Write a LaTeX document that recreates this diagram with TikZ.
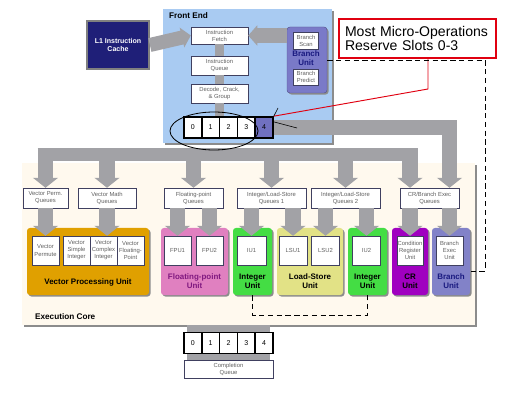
\documentclass[tikz,border=0pt]{standalone}
\usepackage{fontspec}
\setmainfont{Liberation Sans}
\usetikzlibrary{arrows.meta,shapes.geometric,shadows}

\definecolor{feblue}{HTML}{A9CBF2}
\definecolor{l1blue}{HTML}{1F1F78}
\definecolor{brublue}{HTML}{7A7AC8}
\definecolor{slotblue}{HTML}{7070C0}
\definecolor{brutext}{HTML}{1A1A80}
\definecolor{ecfill}{HTML}{FFF9EE}
\definecolor{vpuorange}{HTML}{E0A000}
\definecolor{fpupink}{HTML}{E080C0}
\definecolor{fptext}{HTML}{801880}
\definecolor{intgreen}{HTML}{44DD44}
\definecolor{lsuyellow}{HTML}{E2E286}
\definecolor{crpurple}{HTML}{A000C0}
\definecolor{bxblue}{HTML}{8282C8}
\definecolor{flowgray}{HTML}{A2A2A6}
\definecolor{boxline}{HTML}{404060}
\definecolor{smalltext}{HTML}{606060}
\definecolor{calloutred}{HTML}{E00010}

\newcommand{\pxu}{0.03cm}

\begin{document}
\begin{tikzpicture}[x=0.03cm, y=-0.03cm,
  sz/.style 2 args={minimum width=#1*\pxu, minimum height=#2*\pxu, inner sep=0pt},
  shad/.style={drop shadow={shadow xshift=#1, shadow yshift=-#1, fill=black!45, opacity=1}},
  shad/.default=1pt,
  small/.style={draw=boxline, fill=white, text=smalltext, align=center,
    font=\fontsize{5}{6}\selectfont, shad=0.7pt},
  slot/.style={draw=black, line width=1.4pt, fill=white, font=\fontsize{6}{7}\selectfont, sz={17.8}{21}},
  unit/.style={rounded corners=2.5pt, shad=1.3pt},
  ulabel/.style={font=\bfseries\fontsize{6.8}{7.8}\selectfont, align=center},
  flow/.style={draw=flowgray, line width=13.6pt, -{Triangle[length=8.5pt, width=21pt]}},
  flowh/.style={draw=flowgray, line width=12pt, -{Triangle[length=7.7pt, width=17pt]}},
  link/.style={draw=flowgray, line width=8.5pt},
  bus/.style={draw=flowgray, line width=11pt},
  dashline/.style={line width=0.8pt, dash pattern=on 4.5pt off 3pt}]
  \useasboundingbox (0,0) rectangle (513,403);

  % front end
  \node[fill=feblue, sz={169}{134}, shad=1.5pt] (fe) at (247.5,76) {};
  \node[font=\bfseries\fontsize{7}{8}\selectfont, anchor=west] (fetitle) at (165,16) {Front End};
  \node[fill=l1blue, draw=gray, line width=1.5pt, sz={62}{48}, text=white,
    font=\bfseries\fontsize{6}{7}\selectfont, align=center] (l1) at (118,45) {L1 Instruction\\Cache};
  \node[small, sz={57}{17}] (fetch) at (219.5,35.5) {Instruction\\Fetch};
  \node[small, sz={57}{19}] (iq) at (219.5,65.5) {Instruction\\Queue};
  \node[small, sz={57}{19}] (dec) at (219.5,93.5) {Decode, Crack,\\\& Group};
  \node[unit, fill=brublue, draw=brublue!70!black, sz={40}{66}] (bru) at (307,60) {};
  \node[small, sz={25}{17}] (bscan) at (306,40.5) {Branch\\Scan};
  \node[small, sz={25}{16}] (bpred) at (306,77) {Branch\\Predict};
  \node[ulabel, text=brutext] (brulabel) at (306,58.5) {Branch\\Unit};

  \foreach \i in {0,...,3}
    \node[slot] (s\i) at ({192.9+17.8*\i},127.5) {\i};
  \node[slot, fill=slotblue] (s4) at (264.1,127.5) {4};

  \draw[link] (fetch.south) -- (iq.north);
  \draw[link] (iq.south) -- (dec.north);
  \draw[link] (dec.south) -- (dec.south |- s2.north);
  \draw[flowh] (l1.east) -- (fetch.west);
  \draw[flowh] (bru.west |- fetch.west) -- (fetch.east);

  % execution core
  \node[fill=ecfill, sz={453}{162}, shad=1.5pt] (ec) at (248.5,244) {};
  \node[font=\bfseries\fontsize{7}{8}\selectfont, anchor=west] (ectitle) at (31,317) {Execution Core};

  \node[small, sz={45}{20}] (vpq) at (45.5,198) {Vector Perm.\\Queues};
  \node[small, sz={58}{20}] (vmq) at (107,198) {Vector Math\\Queues};
  \node[small, sz={59}{20}] (fpq) at (193.5,198) {Floating-point\\Queues};
  \node[small, sz={69}{20}] (iq1) at (271.5,198) {Integer/Load-Store\\Queues 1};
  \node[small, sz={69}{20}] (iq2) at (345.5,198) {Integer/Load-Store\\Queues 2};
  \node[small, sz={59}{20}] (crq) at (429.5,198) {CR/Branch Exec\\Queues};

  \node[unit, fill=vpuorange, sz={122}{67}] (vpu) at (88,261.5) {};
  \node[unit, fill=fpupink, sz={67}{67}] (fpu) at (194.5,261.5) {};
  \node[unit, fill=intgreen, sz={39}{67}] (iu1) at (252.5,261.5) {};
  \node[unit, fill=lsuyellow, sz={66}{67}] (lsu) at (310,261.5) {};
  \node[unit, fill=intgreen, sz={39}{67}] (iu2) at (367.5,261.5) {};
  \node[unit, fill=crpurple, sz={36}{67}] (cru) at (410,261.5) {};
  \node[unit, fill=bxblue, sz={38}{67}] (bxu) at (451,261.5) {};

  \node[ulabel] (vpulabel) at (88,282) {Vector Processing Unit};
  \node[ulabel, text=fptext] (fpulabel) at (194.5,281) {Floating-point\\Unit};
  \node[ulabel] (iu1label) at (252.5,281) {Integer\\Unit};
  \node[ulabel] (lsulabel) at (310,281) {Load-Store\\Unit};
  \node[ulabel] (iu2label) at (367.5,281) {Integer\\Unit};
  \node[ulabel] (crulabel) at (410,281) {CR\\Unit};
  \node[ulabel, text=brutext] (bxulabel) at (451,281) {Branch\\Unit};

  \node[small, sz={27}{29}] (vperm) at (45.5,250.5) {Vector\\Permute};
  \node[small, sz={27}{29}] (vsi) at (76.5,250.5) {Vector\\Simple\\Integer};
  \node[small, sz={27}{29}] (vci) at (103.5,250.5) {Vector\\Complex\\Integer};
  \node[small, sz={27}{29}] (vfp) at (130.5,250.5) {Vector\\Floating-\\Point};
  \node[small, sz={27}{29}] (fpu1) at (177.5,250.5) {FPU1};
  \node[small, sz={27}{29}] (fpu2) at (209.5,250.5) {FPU2};
  \node[small, sz={29}{29}] (iu1b) at (251.5,250.5) {IU1};
  \node[small, sz={28}{29}] (lsu1) at (293,250.5) {LSU1};
  \node[small, sz={28}{29}] (lsu2) at (325.5,250.5) {LSU2};
  \node[small, sz={28}{29}] (iu2b) at (366.5,250.5) {IU2};
  \node[small, sz={26}{29}] (crb) at (410,250.5) {Condition\\Register\\Unit};
  \node[small, sz={27}{29}] (bxb) at (449.5,250.5) {Branch\\Exec\\Unit};

  % dispatch
  \coordinate (busl) at (37.5,154.5);
  \coordinate (busr) at (418,154.5);
  \draw[bus] (busl) -- (busr);
  \draw[flow] (vpq.north |- busl) -- (vpq.north);
  \draw[flow] (vmq.north |- busl) -- (vmq.north);
  \draw[flow] (fpq.north |- busl) -- (fpq.north);
  \draw[flow] (iq1.north |- busl) -- (iq1.north);
  \draw[flow] (iq2.north |- busl) -- (iq2.north);
  \draw[flow] (crb.north |- busl) -- (crb.north |- crq.north);
  \draw[flow] (s4.east) -| (bxb.north |- crq.north);

  \draw[flow] (vpq.south) -- (vperm.north);
  \draw[flow] (vmq.south) -- (vmq.south |- vci.north);
  \draw[flow] (fpu1.north |- fpq.south) -- (fpu1.north);
  \draw[flow] (fpu2.north |- fpq.south) -- (fpu2.north);
  \draw[flow] (iu1b.north |- iq1.south) -- (iu1b.north);
  \draw[flow] (lsu1.north |- iq1.south) -- (lsu1.north);
  \draw[flow] (lsu2.north |- iq2.south) -- (lsu2.north);
  \draw[flow] (iu2b.north |- iq2.south) -- (iu2b.north);
  \draw[flow] (crb.north |- crq.south) -- (crb.north);
  \draw[flow] (bxb.north |- crq.south) -- (bxb.north);

  \coordinate (dlow) at (0,315);
  \draw[dashline] (iu1.south) -- (iu1.south |- dlow) -| (iu2.south);

  % completion
  \node[small, sz={89}{18}] (cq) at (228.5,369) {Completion\\Queue};
  \draw[draw=flowgray, line width=70pt] (cq.north |- ec.south) -- (cq.north);
  \foreach \i in {0,...,4}
    \node[slot] (c\i) at ({192.9+17.8*\i},343) {\i};

  % callout
  \node[draw=calloutred, line width=1pt, fill=white, sz={157}{39}, text width=145*\pxu,
    align=left, font=\fontsize{12}{11.5}\selectfont] (note) at (417.5,38.5)
    {Most Micro-Operations\\Reserve Slots 0-3};
  \coordinate (rb) at (428,89);
  \draw[calloutred, line width=0.8pt] (note.south -| rb) -- (rb) -- (s4.north east);
  \coordinate (t1) at (278,108);
  \coordinate (t2) at (297,128);
  \draw[line width=0.5pt] (s4.north east) -- (t1);
  \draw[line width=0.5pt] (s4.30) -- (t2);

  \coordinate (dc1) at (485,60);
  \coordinate (dc2) at (485,271);
  \draw[dashline] (bru.east) -- (dc1) -- (dc2) -- (bxu.east |- dc2);

  \node[draw, ellipse, line width=0.7pt, sz={88}{38}] (grp) at (214,131) {};
\end{tikzpicture}
\end{document}
